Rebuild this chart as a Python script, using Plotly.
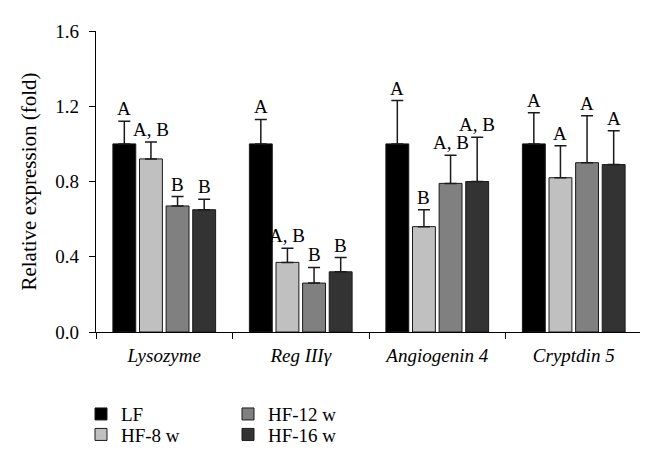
import plotly.graph_objects as go

categories = ["Lysozyme", "Reg IIIγ", "Angiogenin 4", "Cryptdin 5"]
groups = ["LF", "HF-8 w", "HF-12 w", "HF-16 w"]
values = {
    "LF":      [1.00, 1.00, 1.00, 1.00],
    "HF-8 w":  [0.92, 0.37, 0.56, 0.82],
    "HF-12 w": [0.67, 0.26, 0.79, 0.90],
    "HF-16 w": [0.65, 0.32, 0.80, 0.89],
}
errors = {
    "LF":      [0.12, 0.13, 0.23, 0.165],
    "HF-8 w":  [0.09, 0.075, 0.09, 0.17],
    "HF-12 w": [0.05, 0.083, 0.15, 0.25],
    "HF-16 w": [0.055, 0.076, 0.235, 0.18],
}
letters = {
    "LF":      ["A", "A", "A", "A"],
    "HF-8 w":  ["A, B", "A, B", "B", "A"],
    "HF-12 w": ["B", "B", "A, B", "A"],
    "HF-16 w": ["B", "B", "A, B", "A"],
}
colors = {"LF": "#000000", "HF-8 w": "#c0c0c0", "HF-12 w": "#808080", "HF-16 w": "#333333"}
# one legend box per entry, laid out in two columns
legend_of = {"LF": "legend", "HF-8 w": "legend2", "HF-12 w": "legend3", "HF-16 w": "legend4"}
y_ticks = [0.0, 0.4, 0.8, 1.2, 1.6]

FONT = "Liberation Serif"
BARGAP = 0.22
BARGROUPGAP = 0.14

fig = go.Figure()
for g in groups:
    fig.add_trace(go.Bar(
        name=g, x=categories, y=values[g],
        marker=dict(color=colors[g], line=dict(color="#1a1a1a", width=1)),
        error_y=dict(type="data", symmetric=False, array=errors[g],
                     arrayminus=[0] * len(categories),
                     color="#1a1a1a", thickness=1.5, width=6),
        legend=legend_of[g],
    ))

n = len(groups)
slot = (1 - BARGAP) / n
for j, g in enumerate(groups):
    for i, c in enumerate(categories):
        fig.add_annotation(
            x=i + (j - (n - 1) / 2) * slot, y=values[g][i] + errors[g][i],
            xref="x", yref="y", text=letters[g][i], showarrow=False,
            yanchor="bottom", yshift=0,
            font=dict(family=FONT, size=19, color="#000"),
        )

# plot area: 309 px tall, 546 px wide
def leg(xp, yp):
    return dict(x=xp, y=yp, xanchor="left", yanchor="middle", orientation="v",
                font=dict(family=FONT, size=19, color="#000"),
                bgcolor="rgba(0,0,0,0)", borderwidth=0, tracegroupgap=0)

row1 = -(416 - 331.7) / 309
row2 = -(437 - 331.7) / 309
col1 = (73 - 88) / 546
col2 = (220 - 88) / 546

fig.update_layout(
    width=648, height=457,
    margin=dict(l=88, r=14, t=23, b=125),
    paper_bgcolor="white", plot_bgcolor="white",
    barmode="group", bargap=BARGAP, bargroupgap=BARGROUPGAP,
    font=dict(family=FONT, size=19, color="#000"),
    showlegend=True,
    legend=leg(col1, row1),
    legend2=leg(col1, row2),
    legend3=leg(col2, row1),
    legend4=leg(col2, row2),
)
fig.update_xaxes(
    type="category", showline=True, linecolor="#000", linewidth=1.3,
    ticks="outside", tickson="boundaries", ticklen=6, tickcolor="#000",
    tickfont=dict(family=FONT, size=19, style="italic"),
    ticklabelstandoff=6,
    showgrid=False, zeroline=False,
)
fig.update_yaxes(
    range=[0, 1.6], tickvals=y_ticks, ticktext=[f"{v:.1f}" for v in y_ticks],
    showline=True, linecolor="#000", linewidth=1.3,
    ticks="outside", ticklen=6, tickcolor="#000",
    tickfont=dict(family=FONT, size=19),
    ticklabelstandoff=6,
    title=dict(text="Relative expression (fold)", font=dict(family=FONT, size=21), standoff=12),
    showgrid=False, zeroline=False,
)
fig.write_html("out.html")
